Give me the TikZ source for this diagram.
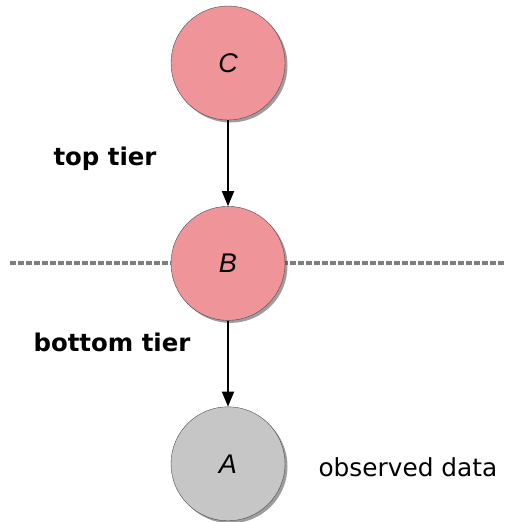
\documentclass[tikz,border=0pt]{standalone}
\usepackage{fontspec}
\setmainfont{DejaVu Sans}
\newfontfamily\letterfont{Liberation Sans}
\usetikzlibrary{positioning,arrows.meta,shadows,calc}
\definecolor{latentpink}{HTML}{EF9499}
\definecolor{observedgray}{HTML}{C6C6C6}
\definecolor{tierline}{HTML}{7F7F7F}

\begin{document}
\begin{tikzpicture}[
    x=1pt, y=1pt,
    v/.style ={
        circle,
        minimum size=114pt,
        inner sep=0pt,
        draw=black!70,
        thin,
        fill=latentpink,
        font=\letterfont\itshape\fontsize{27}{30}\selectfont,
        drop shadow={shadow xshift=2.5pt, shadow yshift=-2.5pt, opacity=0.55, fill=black!70}
    },
    obs/.style ={v, fill=observedgray},
    tier/.style ={anchor=base west, font=\bfseries\fontsize{24.4}{28}\selectfont},
    note/.style ={anchor=base west, font=\fontsize{24.8}{28}\selectfont},
    link/.style ={-{Triangle[length=15pt,width=12pt]}, line width=1.8pt}
    ]
    \useasboundingbox (0,0) rectangle (505,-522);

    % tier separator goes first so that B covers it
    \coordinate (sepl) at (10,-263);
    \coordinate (sepr) at (505,-263);
    \draw[tierline, line width=4pt, dash pattern=on 6pt off 2pt] (sepl) -- (sepr);

    \node[v] (C) at (228,-63) {C};
    \node[v] (B) [below=86pt of C] {B};
    \node[obs] (A) [below=86pt of B] {A};

    \node[tier] (toptier) at (50,-165) {top tier};
    \node[tier] (bottomtier) at (30,-351) {bottom tier};
    \node[note] (observed) at (315,-476) {observed data};

    \foreach \src/ \dst in {C/B, B/A}
        \path[link] (\src) edge (\dst);
\end{tikzpicture}
\end{document}
